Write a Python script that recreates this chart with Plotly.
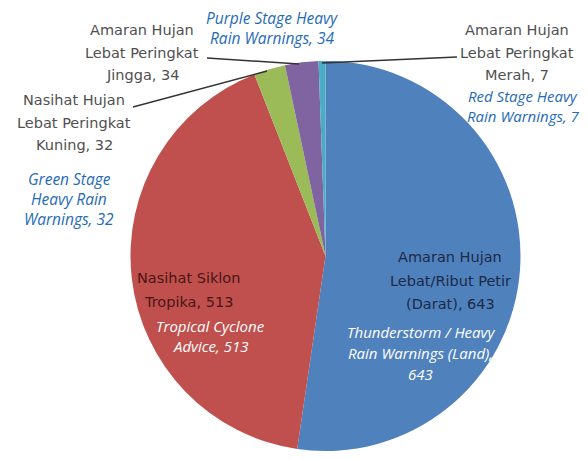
import plotly.graph_objects as go

# Warnings issued, by type (Malay + English labels)
labels_ms = [
    "Amaran Hujan<br>Lebat/Ribut Petir<br>(Darat)",
    "Nasihat Siklon<br>Tropika",
    "Nasihat Hujan<br>Lebat Peringkat<br>Kuning",
    "Amaran Hujan<br>Lebat Peringkat<br>Jingga",
    "Amaran Hujan<br>Lebat Peringkat<br>Merah",
]
labels_en = [
    "Thunderstorm / Heavy<br>Rain Warnings (Land),",
    "Tropical Cyclone<br>Advice",
    "Green Stage<br>Heavy Rain<br>Warnings",
    "Purple Stage Heavy<br>Rain Warnings",
    "Red Stage Heavy<br>Rain Warnings",
]
values = [643, 513, 32, 34, 7]
colors = ["#4F81BD", "#C0504D", "#9BBB59", "#8064A2", "#4BACC6"]

# page has an 8px body margin, so the figure is drawn 8px in from the corner
OFF = 8
W, H = 572, 443
GRAY = "#505050"
BLUE = "#1f6bb8"
MS_FONT = "DejaVu Sans, sans-serif"
EN_FONT = "Open Sans, sans-serif"

fig = go.Figure(go.Pie(
    labels=[l.replace("<br>", " ") for l in labels_ms],
    values=values,
    marker=dict(colors=colors, line=dict(width=0)),
    sort=False,
    direction="clockwise",
    rotation=0,
    textinfo="none",
    hoverinfo="label+value",
    showlegend=False,
    domain=dict(x=[(317.5 - 195) / W, (317.5 + 195) / W], y=[0.0, 390 / H]),
))


def px(x, y):
    # reference pixel -> paper coords
    return (x - OFF) / W, 1 - (y - OFF) / H


def ms_lines(i):
    lines = labels_ms[i].split("<br>")
    lines[-1] += f", {values[i]}"
    return lines


def en_lines(i):
    lines = labels_en[i].split("<br>")
    if lines[-1].endswith(","):
        lines.append(str(values[i]))
    else:
        lines[-1] += f", {values[i]}"
    return lines


# (index, kind, center x, line y's, color, size)
placements = [
    (0, "ms", 450, [257, 281, 304], "#1c2a48", 14.5),
    (0, "en", 421, [332, 353, 374], "white", 15),
    (1, "ms", 188, [278, 302], "#4a1616", 14.5),
    (1, "en", 210, [326, 346], "white", 15),
    (2, "ms", 74, [100, 123, 145], GRAY, 14.5),
    (2, "en", 69, [179, 199, 219], BLUE, 15.5),
    (3, "ms", 142, [30, 53, 75], GRAY, 14.5),
    (3, "en", 272, [18, 37.5], BLUE, 15.5),
    (4, "ms", 517, [30, 53, 75], GRAY, 14.5),
    (4, "en", 523, [96, 115.5], BLUE, 15),
]

annotations = []
for i, kind, x, ys, col, size in placements:
    lines = ms_lines(i) if kind == "ms" else en_lines(i)
    for line, y in zip(lines, ys):
        ax, ay = px(x, y)
        annotations.append(dict(
            x=ax, y=ay, xref="paper", yref="paper", text=line,
            showarrow=False, xanchor="center", yanchor="middle",
            font=dict(family=MS_FONT if kind == "ms" else EN_FONT,
                      size=size, color=col,
                      style="normal" if kind == "ms" else "italic"),
        ))

# leader lines from outside labels to the small slices
leaders = [
    ((207, 58), (299, 64)),
    ((133, 107), (267, 71)),
    ((457, 57), (322, 63)),
]
shapes = []
for (x0, y0), (x1, y1) in leaders:
    a0, b0 = px(x0, y0)
    a1, b1 = px(x1, y1)
    shapes.append(dict(type="line", xref="paper", yref="paper",
                       x0=a0, y0=b0, x1=a1, y1=b1,
                       line=dict(color="#333333", width=1.5)))

fig.update_layout(
    width=W, height=H,
    margin=dict(l=0, r=0, t=0, b=0),
    paper_bgcolor="white",
    plot_bgcolor="white",
    annotations=annotations,
    shapes=shapes,
)

fig.write_html("out.html")
